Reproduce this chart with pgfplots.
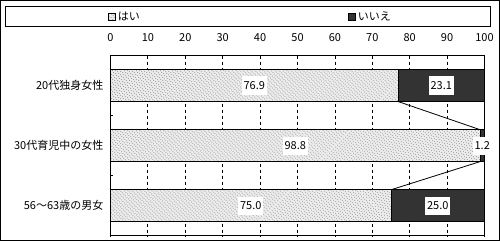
\documentclass[border=0pt]{standalone}
\usepackage{fontspec}
\setmainfont{Noto Sans CJK JP}
\usepackage{pgfplots}
\usepackage{pgfplotstable}
\pgfplotsset{compat=1.18}
\usetikzlibrary{patterns.meta}

\definecolor{darkbar}{RGB}{51,51,51}

\tikzset{
  dotfill/.style={fill=black!8,
    postaction={pattern={Dots[angle=45, distance=2.83bp, radius=0.5bp]}, pattern color=black!80}},
}

% share of はい / いいえ answers per group (%)
\pgfplotstableread{
group yes no
0 76.9 23.1
1 98.8 1.2
2 75.0 25.0
}\survey

% common geometry of the two overlaid axes
\pgfplotsset{
  chartbox/.style={
    scale only axis,
    width=374bp, height=180.3bp,
    xmin=0, xmax=100,
    ymin=-0.5, ymax=2.5,
    y dir=reverse,
  },
  valuelabel/.style={
    draw=none, no markers, forget plot,
    point meta=explicit,
    nodes near coords={\pgfmathprintnumber[fixed,fixed zerofill,precision=1]{\pgfplotspointmeta}},
    every node near coord/.append style={anchor=center, fill=white, text=black,
      inner xsep=2bp, inner ysep=5bp},
  },
}

\begin{document}
\begin{tikzpicture}
\begin{axis}[
  chartbox,
  xbar stacked,
  bar width=32bp,
  ytick={0,1,2},
  yticklabels={20代独身女性, 30代育児中の女性, 56～63歳の男女},
  minor ytick={0.5,1.5},
  ytick pos=left,
  xtick={0,10,...,100},
  xticklabel pos=upper,
  major tick length=0pt,
  minor tick length=3bp,
  xmajorgrids,
  grid style={black, line width=0.8bp, dash pattern=on 3bp off 3bp},
  axis line style={black, line width=1bp},
  tick style={black, line width=0.8bp},
  font=\fontsize{11bp}{13bp}\selectfont,
  /pgf/number format/assume math mode=true,
  xticklabel style={anchor=base, yshift=13.8bp, inner sep=0pt},
  yticklabel style={anchor=east, inner sep=0pt, xshift=-7bp},
  clip=false,
  legend style={draw=none, fill=none, inner sep=0pt,
    at={(axis description cs:-0.00668,1.2163)}, anchor=west,
    nodes={inner sep=0pt},
    /tikz/every odd column/.append style={column sep=2bp},
    /tikz/every even column/.append style={column sep=208bp},
    cells={anchor=west}},
  legend columns=2,
  legend image code/.code={\draw[#1, line width=0.8bp] (0bp,-3.5bp) rectangle (7bp,3.5bp);},
]
\addplot[draw=black, line width=0.8bp, dotfill] table[x=yes, y=group] {\survey};
\addplot[draw=black, line width=0.8bp, fill=darkbar] table[x=no, y=group] {\survey};
\legend{はい, いいえ}
\end{axis}

% series lines joining the ends of the はい bars, and the value labels
\begin{axis}[chartbox, hide axis, clip=false,
  font=\fontsize{11bp}{13bp}\selectfont,
  /pgf/number format/assume math mode=true]
\addplot[black, line width=0.8bp] coordinates {(76.9,0.266) (98.8,0.734)};
\addplot[black, line width=0.8bp] coordinates {(98.8,1.266) (75.0,1.734)};
\addplot[valuelabel] table[x expr=\thisrow{yes}/2, y=group, meta=yes] {\survey};
\addplot[valuelabel] table[x expr=\thisrow{yes}+\thisrow{no}/2, y=group, meta=no] {\survey};
\end{axis}

% legend frame and outer frame
\draw[black, line width=1bp] (-105bp,209.3bp) rectangle (380bp,229.3bp);
\draw[black, line width=1.5bp] (-109.75bp,-4.45bp) rectangle (388.75bp,235.05bp);
\end{tikzpicture}
\end{document}
